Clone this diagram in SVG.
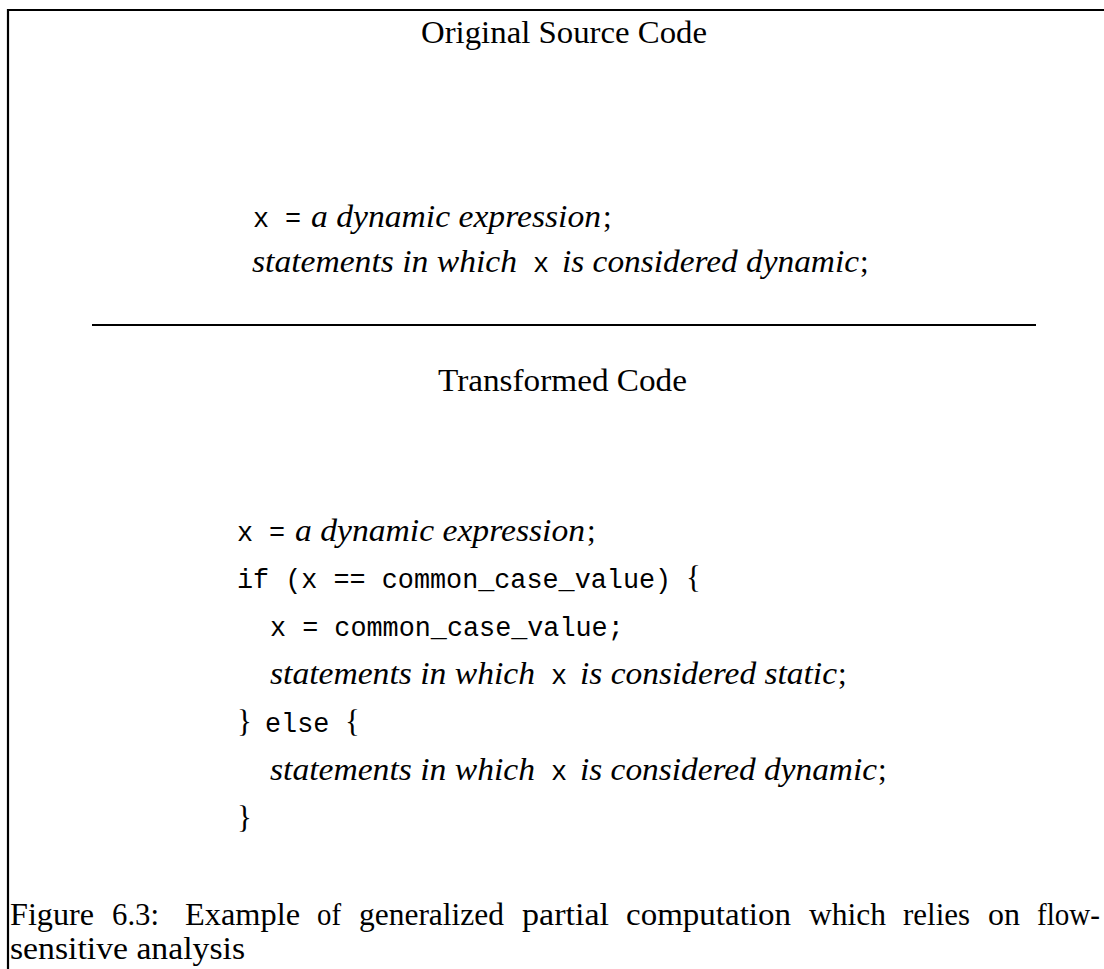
<svg xmlns="http://www.w3.org/2000/svg" width="1104" height="969" viewBox="0 0 1104 969">
<style>
.rm{font-family:"Liberation Serif","Times New Roman",serif;font-size:31px;fill:#000}
.it{font-family:"Liberation Serif","Times New Roman",serif;font-style:italic;font-size:31px;fill:#000}
.tt{font-family:"Liberation Mono","Courier New",monospace;font-size:26.8px;fill:#000}
.ln{stroke:#000;stroke-width:2.2;fill:none}
</style>
<rect width="1104" height="969" fill="#fff"/>
<g id="frame">
<line class="ln" x1="8" y1="10" x2="1104" y2="10"/>
<line class="ln" x1="8" y1="9" x2="8" y2="969"/>
</g>
<g id="original">
<text class="rm" x="421" y="43" textLength="286" lengthAdjust="spacingAndGlyphs">Original Source Code</text>
<text class="tt" x="253" y="227">x</text>
<text class="tt" x="285" y="227">=</text>
<text class="it" x="311" y="227" textLength="290" lengthAdjust="spacingAndGlyphs">a dynamic expression</text>
<text class="rm" x="603" y="227">;</text>
<text class="it" x="252" y="272" textLength="265" lengthAdjust="spacingAndGlyphs">statements in which</text>
<text class="tt" x="533" y="272">x</text>
<text class="it" x="562" y="272" textLength="297" lengthAdjust="spacingAndGlyphs">is considered dynamic</text>
<text class="rm" x="860" y="272">;</text>
</g>
<g id="separator">
<line class="ln" x1="92" y1="325" x2="1036" y2="325"/>
</g>
<g id="transformed">
<text class="rm" x="438" y="391" textLength="249" lengthAdjust="spacingAndGlyphs">Transformed Code</text>
<text class="tt" x="237" y="541">x</text>
<text class="tt" x="269" y="541">=</text>
<text class="it" x="295" y="541" textLength="290" lengthAdjust="spacingAndGlyphs">a dynamic expression</text>
<text class="rm" x="587" y="541">;</text>
<text class="tt" x="237" y="588">if (x == common_case_value)</text>
<text class="rm" x="686" y="588">{</text>
<text class="tt" x="270" y="636">x = common_case_value;</text>
<text class="it" x="270" y="684" textLength="265" lengthAdjust="spacingAndGlyphs">statements in which</text>
<text class="tt" x="551" y="684">x</text>
<text class="it" x="580" y="684" textLength="257" lengthAdjust="spacingAndGlyphs">is considered static</text>
<text class="rm" x="838" y="684">;</text>
<text class="rm" x="237" y="732">}</text>
<text class="tt" x="265" y="732">else</text>
<text class="rm" x="345" y="732">{</text>
<text class="it" x="270" y="780" textLength="265" lengthAdjust="spacingAndGlyphs">statements in which</text>
<text class="tt" x="551" y="780">x</text>
<text class="it" x="580" y="780" textLength="297" lengthAdjust="spacingAndGlyphs">is considered dynamic</text>
<text class="rm" x="878" y="780">;</text>
<text class="rm" x="237" y="828">}</text>
</g>
<g id="caption">
<text class="rm" x="10" y="925" textLength="84" lengthAdjust="spacingAndGlyphs">Figure</text>
<text class="rm" x="112" y="925" textLength="47" lengthAdjust="spacingAndGlyphs">6.3:</text>
<text class="rm" x="185" y="925" textLength="115" lengthAdjust="spacingAndGlyphs">Example</text>
<text class="rm" x="317" y="925" textLength="24" lengthAdjust="spacingAndGlyphs">of</text>
<text class="rm" x="359" y="925" textLength="145" lengthAdjust="spacingAndGlyphs">generalized</text>
<text class="rm" x="522" y="925" textLength="87" lengthAdjust="spacingAndGlyphs">partial</text>
<text class="rm" x="626" y="925" textLength="165" lengthAdjust="spacingAndGlyphs">computation</text>
<text class="rm" x="809" y="925" textLength="77" lengthAdjust="spacingAndGlyphs">which</text>
<text class="rm" x="903" y="925" textLength="67" lengthAdjust="spacingAndGlyphs">relies</text>
<text class="rm" x="988" y="925" textLength="32" lengthAdjust="spacingAndGlyphs">on</text>
<text class="rm" x="1037" y="925" textLength="63" lengthAdjust="spacingAndGlyphs">flow-</text>
<text class="rm" x="10" y="959" textLength="235" lengthAdjust="spacingAndGlyphs">sensitive analysis</text>
</g>
</svg>
